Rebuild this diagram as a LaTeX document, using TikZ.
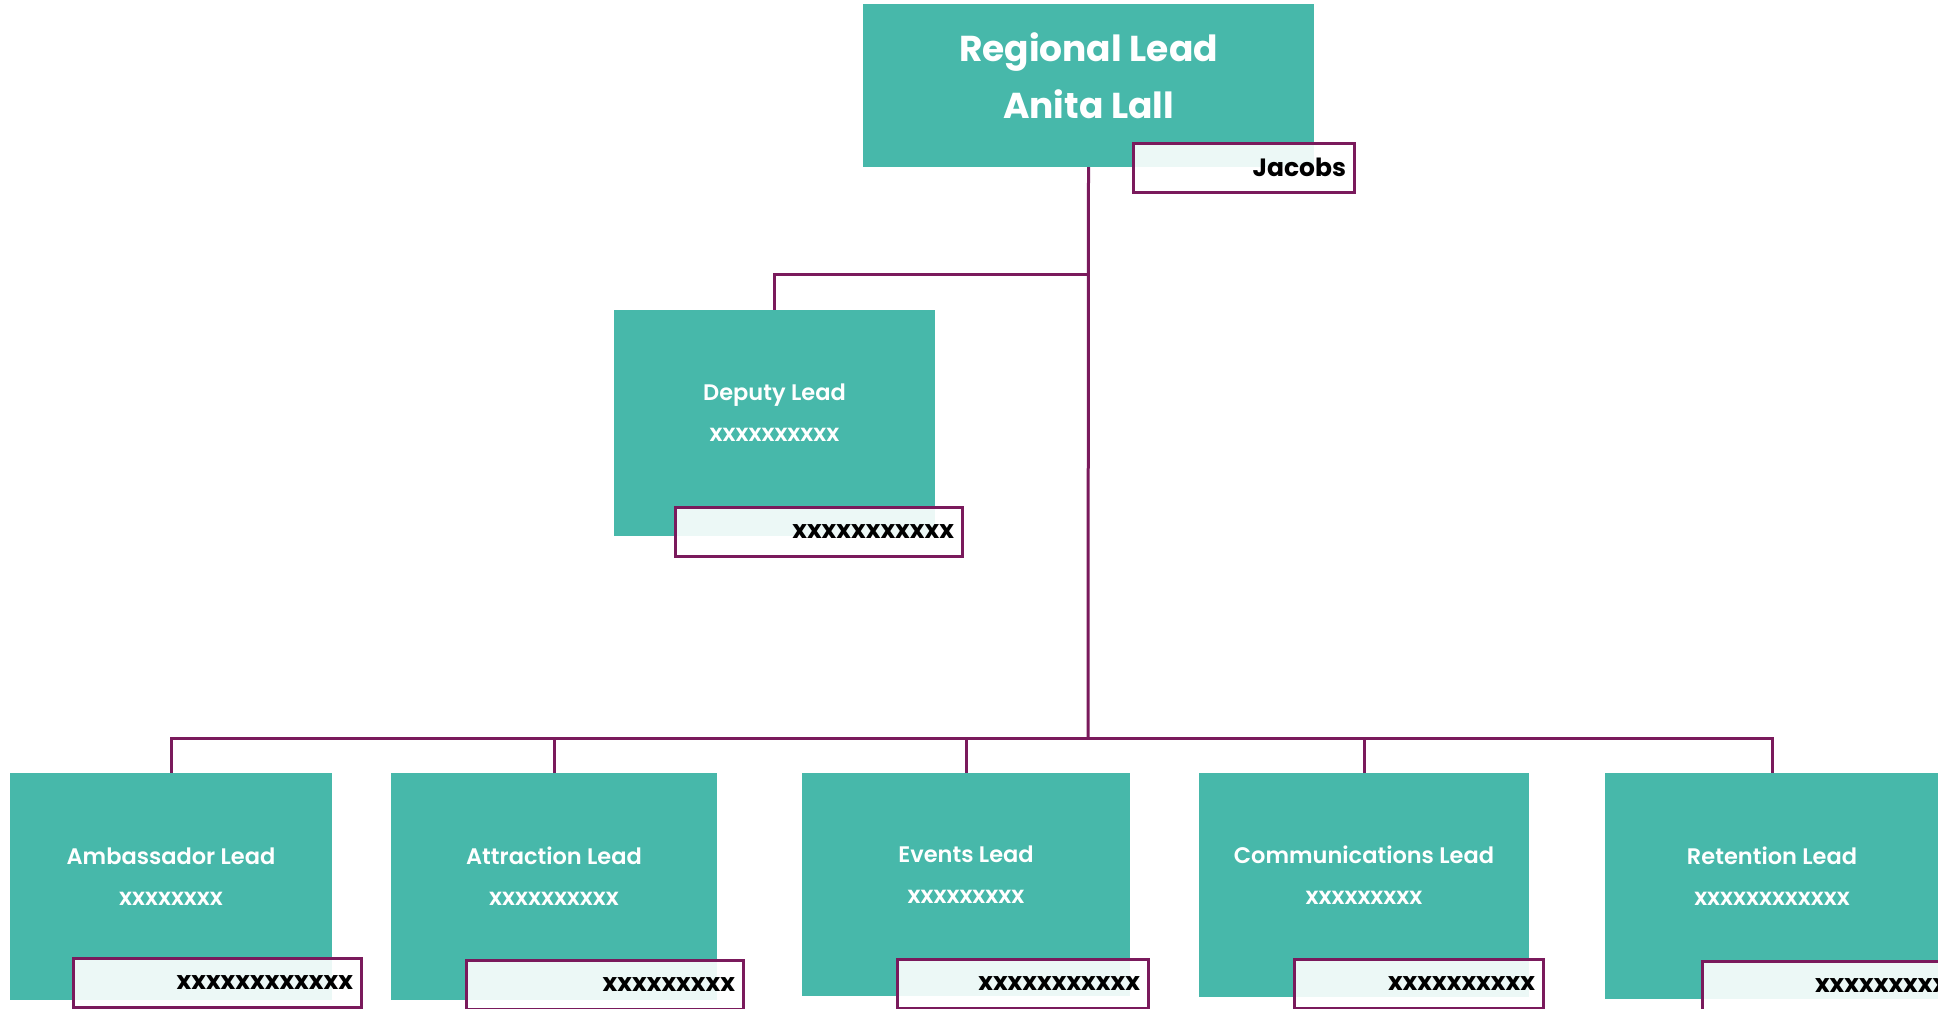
\documentclass[tikz,border=0pt]{standalone}
\usepackage{fontspec}
\setmainfont{Poppins}
\newfontfamily\medfont{Poppins SemiBold}
\usetikzlibrary{positioning}
\definecolor{leadteal}{HTML}{47B8AA}
\definecolor{plum}{HTML}{7A1A5C}

\begin{document}
\begin{tikzpicture}[x=1pt, y=-1pt]
% Define styles
\tikzstyle{leadbox} = [rectangle, fill=leadteal, text=white, align=center, text depth=20pt, inner sep=0pt, font=\medfont\fontsize{22.5}{41}\selectfont]
\tikzstyle{headbox} = [leadbox, font=\fontsize{36}{57}\selectfont\bfseries]
\tikzstyle{namebox} = [rectangle, draw=plum, line width=3pt, fill=white, fill opacity=0.9, text opacity=1, minimum height=49pt, inner xsep=8pt, inner ysep=0pt, align=right, font=\fontsize{25}{30}\selectfont\bfseries]
\tikzstyle{line} = [draw=plum, line width=3pt]
\newcommand{\sub}[1]{{\fontsize{24}{41}\selectfont #1}}

\useasboundingbox (0,0) rectangle (1938,1009);

% Coordinates
\coordinate (fork) at (1088,274);
\coordinate (hub) at (1088,738);

% Nodes
\node (regional) [headbox, minimum width=451pt, minimum height=163pt] at (1088.5,85.5) {Regional Lead\\Anita Lall};
\node (deputy) [leadbox, minimum width=321pt, minimum height=226pt] at (774.5,423) {Deputy Lead\\\sub{xxxxxxxxxx}};
\node (ambassador) [leadbox, minimum width=322pt, minimum height=227pt] at (171,886.5) {Ambassador Lead\\\sub{xxxxxxxx}};
\node (attraction) [leadbox, minimum width=326pt, minimum height=227pt] at (554,886.5) {Attraction Lead\\\sub{xxxxxxxxxx}};
\node (events) [leadbox, minimum width=328pt, minimum height=223pt] at (966,884.5) {Events Lead\\\sub{xxxxxxxxx}};
\node (comms) [leadbox, minimum width=330pt, minimum height=224pt] at (1364,885) {Communications Lead\\\sub{xxxxxxxxx}};
\node (retention) [leadbox, minimum width=334pt, minimum height=226pt] at (1772,886) {Retention Lead\\\sub{xxxxxxxxxxxx}};

% Name tags
\node (regionaltag) [namebox, text width=205pt] at (1243.5,167.5) {Jacobs};
\node (deputytag) [namebox, text width=271pt] at (818.5,531.5) {xxxxxxxxxxx};
\node (ambassadortag) [namebox, text width=272pt] at (217,983) {xxxxxxxxxxxx};
\node (attractiontag) [namebox, text width=261pt] at (604.5,984.5) {xxxxxxxxx};
\node (eventstag) [namebox, text width=235pt] at (1022.5,983.5) {xxxxxxxxxxx};
\node (commstag) [namebox, text width=233pt] at (1418.5,984) {xxxxxxxxxx};
\node (retentiontag) [namebox, text width=252pt] at (1836,985.5) {xxxxxxxxxx};

% Lines
\begin{scope}[on background layer/.try]
\draw[line] (regional.south) -- (hub);
\draw[line] (fork) -| (deputy.north);
\foreach \n in {ambassador, attraction, events, comms, retention}
  \draw[line] (\n.north) |- (hub);
\end{scope}
\end{tikzpicture}
\end{document}
